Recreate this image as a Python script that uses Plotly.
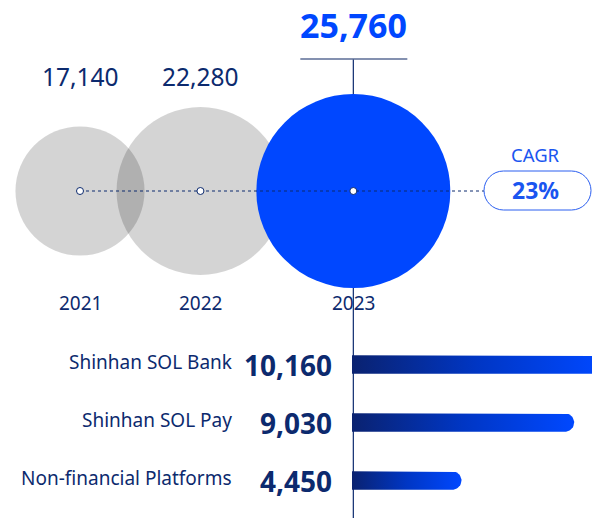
import numpy as np
import plotly.graph_objects as go

# bubble data (annual users, with CAGR)
years = ['2021', '2022', '2023']
users = [17140, 22280, 25760]
cagr = '23%'

# platform breakdown for 2023
platforms = ['Shinhan SOL Bank', 'Shinhan SOL Pay', 'Non-financial Platforms']
platform_users = [10160, 9030, 4450]

NAVY = '#0c2a6e'
BLUE = '#0047ff'
FONT = 'Noto Sans'
W, H = 592, 518

# layout constants (pixel space of the main axes)
BUBBLE_Y = 191
MAX_DIAM = 194
OVERLAP = 28
FIRST_X = 80
PILL_L, PILL_R, PILL_T, PILL_B = 484, 591, 171, 210
BAR_X0 = 352
PX_PER_UNIT = 0.0246
BAR_Y0, BAR_STEP, BAR_H = 364.5, 58, 18.5

# bubble centres follow from radii minus a fixed overlap
radii = [u / max(users) * MAX_DIAM / 2 for u in users]
bx = [FIRST_X]
for i in range(1, len(users)):
    bx.append(bx[-1] + radii[i - 1] + radii[i] - OVERLAP)
last_x = bx[-1]

fig = go.Figure()

fig.add_trace(go.Scatter(
    x=bx, y=[BUBBLE_Y] * len(users), mode='markers',
    marker=dict(size=users, sizemode='diameter', sizeref=max(users) / MAX_DIAM,
                color=['rgba(0,0,0,0.17)'] * (len(users) - 1) + [BLUE],
                line=dict(width=0), opacity=1),
    hoverinfo='skip', showlegend=False))

fig.add_trace(go.Scatter(
    x=[bx[0], PILL_L], y=[BUBBLE_Y, BUBBLE_Y], mode='lines',
    line=dict(color=NAVY, width=1, dash='3px,3px'),
    hoverinfo='skip', showlegend=False))

fig.add_trace(go.Scatter(
    x=bx, y=[BUBBLE_Y] * len(users), mode='markers',
    marker=dict(size=7, color='white', line=dict(color=NAVY, width=1)),
    hoverinfo='skip', showlegend=False))

# gradient bars with rounded right ends, on a value axis (x2)
rx = (BAR_H / 2) / PX_PER_UNIT
for i, v in enumerate(platform_users):
    yc = BAR_Y0 + i * BAR_STEP
    t = np.linspace(-np.pi / 2, np.pi / 2, 25)
    xs = [0, v - rx] + list(v - rx + rx * np.cos(t)) + [v - rx, 0]
    ys = [yc - BAR_H / 2, yc - BAR_H / 2] + list(yc + BAR_H / 2 * np.sin(t)) + [yc + BAR_H / 2, yc + BAR_H / 2]
    fig.add_trace(go.Scatter(
        x=xs, y=ys, xaxis='x2', yaxis='y', mode='lines', fill='toself',
        line=dict(width=0),
        fillgradient=dict(type='horizontal',
                          colorscale=[[0, '#0a2270'], [0.5, '#0036c4'], [1, '#0048ff']]),
        hoverinfo='skip', showlegend=False))
    fig.add_annotation(x=234, y=yc - 3, text=platforms[i], showarrow=False,
                       xanchor='right', yanchor='middle',
                       font=dict(family=FONT, size=19, color=NAVY))
    fig.add_annotation(x=334, y=yc, text='<b>%s</b>' % f'{v:,}', showarrow=False,
                       xanchor='right', yanchor='middle',
                       font=dict(family=FONT, size=28, color=NAVY))

# bubble value labels and years
for i, (yr, u) in enumerate(zip(years, users)):
    last = i == len(users) - 1
    fig.add_annotation(
        x=bx[i], y=25 if last else 76, text=('<b>%s</b>' if last else '%s') % f'{u:,}',
        showarrow=False, xanchor='center', yanchor='middle',
        font=dict(family=FONT, size=34 if last else 24.5, color=BLUE if last else NAVY))
    fig.add_annotation(x=bx[i], y=303, text=yr, showarrow=False,
                       xanchor='center', yanchor='middle',
                       font=dict(family=FONT, size=19, color=NAVY))

# CAGR pill
cx = (PILL_L + PILL_R) / 2 - 2
fig.add_annotation(x=cx, y=154, text='CAGR', showarrow=False,
                   font=dict(family=FONT, size=18.5, color='#1a55f0'))
fig.add_annotation(x=cx, y=190, text='<b>%s</b>' % cagr, showarrow=False,
                   font=dict(family=FONT, size=23, color='#1a55f0'))
r = (PILL_B - PILL_T) / 2
k = 0.55 * r
pill = (f'M {PILL_L + r},{PILL_T} L {PILL_R - r},{PILL_T} '
        f'C {PILL_R - r + k},{PILL_T} {PILL_R},{PILL_T + r - k} {PILL_R},{PILL_T + r} '
        f'C {PILL_R},{PILL_T + r + k} {PILL_R - r + k},{PILL_B} {PILL_R - r},{PILL_B} '
        f'L {PILL_L + r},{PILL_B} '
        f'C {PILL_L + r - k},{PILL_B} {PILL_L},{PILL_T + r + k} {PILL_L},{PILL_T + r} '
        f'C {PILL_L},{PILL_T + r - k} {PILL_L + r - k},{PILL_T} {PILL_L + r},{PILL_T} Z')
fig.add_shape(type='path', path=pill, xref='x', yref='y',
              line=dict(color='#2a5ef0', width=1), fillcolor='white', layer='above')

# vertical guide for the latest year, underline under its value
fig.add_shape(type='line', x0=last_x, x1=last_x, y0=59, y1=H, xref='x', yref='y',
              line=dict(color=NAVY, width=1.2), layer='below')
fig.add_shape(type='line', x0=last_x - 53, x1=last_x + 54, y0=59, y1=59, xref='x', yref='y',
              line=dict(color='#5b6c96', width=1.5), layer='below')

fig.update_layout(
    width=W, height=H, margin=dict(l=0, r=0, t=0, b=0),
    paper_bgcolor='white', plot_bgcolor='rgba(0,0,0,0)',
    xaxis=dict(range=[0, W], domain=[0, 1], visible=False, fixedrange=True),
    yaxis=dict(range=[H, 0], domain=[0, 1], visible=False, fixedrange=True),
    xaxis2=dict(range=[0, (W - BAR_X0) / PX_PER_UNIT], domain=[BAR_X0 / W, 1],
                anchor='y', visible=False, fixedrange=True),
    showlegend=False,
)

fig.write_html('out.html', config={'displayModeBar': False},
               post_script="document.body.style.margin='0';document.body.style.overflow='hidden';")
